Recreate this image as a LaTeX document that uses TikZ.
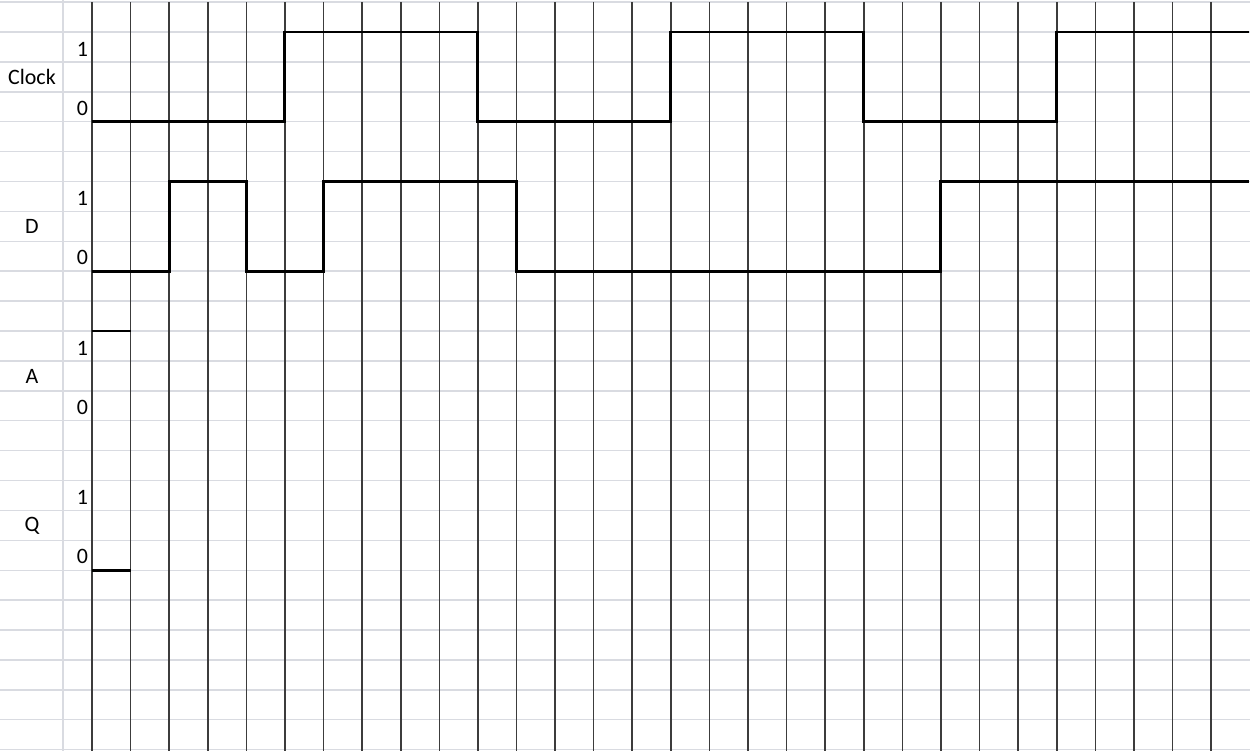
\documentclass[tikz,border=0pt]{standalone}
\usepackage{fontspec}
\setmainfont{Carlito}

\begin{document}
\begin{tikzpicture}[x=0.7718cm,y=-0.598cm]
\definecolor{sheetGrid}{HTML}{D9DBE1}
\definecolor{sheetColumn}{HTML}{3C3C3C}
\useasboundingbox (-2.384,-1.07) rectangle (30.008,24.047);
\fill[white] (-2.384,-1.07) rectangle (30.008,24.047);
\foreach \k in {-1,...,24} {
  \draw[sheetGrid,line width=0.8pt] (-2.384,\k) -- (30.008,\k);
}
\draw[sheetGrid,line width=0.8pt] (-0.751,-1.07) -- (-0.751,24.047);
\foreach \j in {0,...,29} {
  \draw[sheetColumn,line width=0.9pt] (\j,-1) -- (\j,24.047);
}
\draw[line width=1.7pt] (0,3) -- (5,3) -- (5,0) -- (10,0) -- (10,3) -- (15,3) -- (15,0)
  -- (20,0) -- (20,3) -- (25,3) -- (25,0) -- (29.97,0);
\draw[line width=1.7pt] (0,8) -- (2,8) -- (2,5) -- (4,5) -- (4,8) -- (6,8) -- (6,5)
  -- (11,5) -- (11,8) -- (22,8) -- (22,5) -- (29.97,5);
\draw[line width=1.7pt] (0,10) -- (1,10);
\draw[line width=1.7pt] (0,18) -- (1,18);
\foreach \sig/\row in {Clock/0,D/5,A/10,Q/15} {
  \node[font=\fontsize{12.5}{15}\selectfont] (lbl\sig) at (-1.555,\row+1.52) {\sig};
  \node[font=\fontsize{12.5}{15}\selectfont,anchor=east,inner sep=1pt] (high\sig) at (-0.05,\row+0.57) {1};
  \node[font=\fontsize{12.5}{15}\selectfont,anchor=east,inner sep=1pt] (low\sig) at (-0.05,\row+2.55) {0};
}
\end{tikzpicture}
\end{document}
